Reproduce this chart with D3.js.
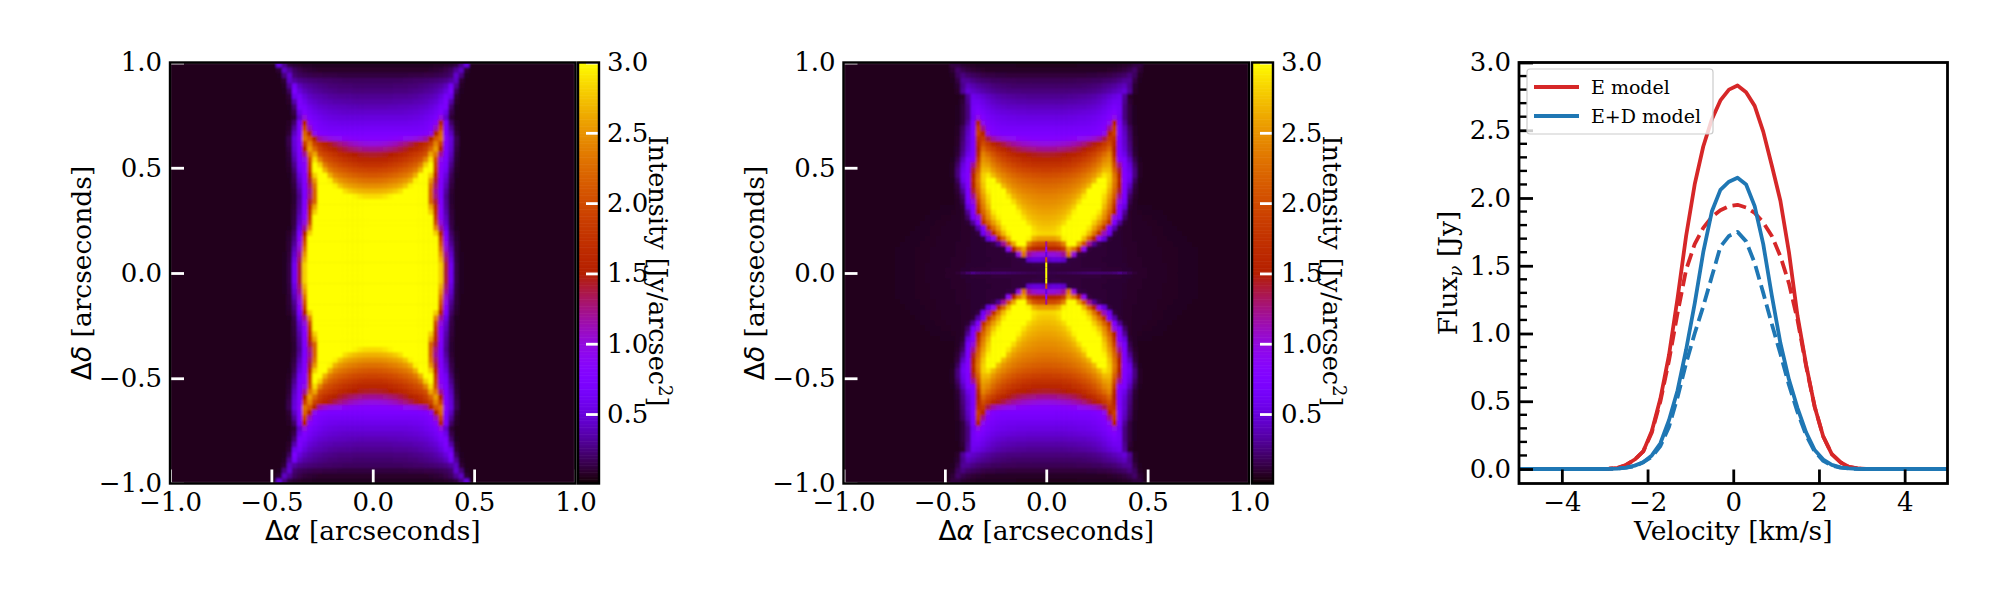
<!DOCTYPE html>
<html><head><meta charset="utf-8">
<script src="https://cdn.jsdelivr.net/npm/d3@7"></script>
<style>
html,body{margin:0;padding:0;background:#fff}
svg{display:block}
text{font-family:"DejaVu Serif",serif;fill:#000}
</style></head><body><svg id="c" width="2000" height="600"></svg>
<script>
// ---------- data ----------
const xTicks=[-1,-0.5,0,0.5,1], yTicks=[-1,-0.5,0,0.5,1];
const cbTicks=[0.5,1,1.5,2,2.5,3];
const vTicks=[-4,-2,0,2,4];
const fluxTicks=[0,0.5,1,1.5,2,2.5,3];
const fluxMinor=[0.1,0.2,0.3,0.4,0.6,0.7,0.8,0.9,1.1,1.2,1.3,1.4,1.6,1.7,1.8,1.9,2.1,2.2,2.3,2.4,2.6,2.7,2.8,2.9];
const background=0.05, cellStep=0.025;
// intensity in one quadrant: rows from |dec|=0.9875 down to 0.0125, columns from |ra|=0.0125 outward
const intensityE=[
[.06,.06,.06,.06,.06,.06,.06,.06,.06,.06,.06,.06,.07,.07,.08,.09,.12,.26,.50],
[.08,.08,.08,.08,.08,.08,.08,.08,.08,.08,.08,.09,.10,.11,.14,.18,.30,.42,.10],
[.12,.12,.12,.12,.12,.12,.12,.13,.13,.13,.14,.14,.15,.16,.18,.22,.45,.25,.06],
[.18,.18,.18,.18,.18,.18,.19,.19,.2,.2,.21,.22,.23,.25,.27,.33,.42,.10],
[.21,.21,.21,.21,.22,.22,.22,.23,.23,.25,.26,.28,.30,.33,.40,.62,.30,.07],
[.24,.24,.24,.24,.25,.25,.25,.26,.27,.28,.30,.32,.35,.40,.50,.70,.18,.06],
[.29,.29,.29,.29,.30,.30,.30,.31,.32,.34,.36,.38,.42,.50,.65,.55,.10],
[.33,.33,.33,.33,.34,.34,.35,.35,.37,.38,.40,.44,.48,.58,.72,.35,.08],
[.38,.38,.38,.39,.39,.40,.40,.41,.42,.44,.46,.50,.56,.68,.70,.22,.06],
[.44,.44,.44,.44,.44,.44,.45,.46,.47,.49,.52,.56,.62,.76,.55,.14],
[.50,.50,.50,.50,.50,.50,.50,.51,.52,.54,.58,.62,.70,1.0,.45,.10],
[.56,.56,.56,.56,.56,.56,.56,.57,.58,.60,.64,.70,.85,1.5,.70,.20,.07],
[.63,.63,.63,.63,.62,.62,.62,.62,.63,.65,.68,.76,1.1,1.9,.72,.30,.08],
[.70,.70,.70,.70,.70,.70,.70,.70,.71,.73,.77,.9,1.5,2.2,.74,.40,.10],
[.8,.8,.8,.82,.84,.87,.9,.93,.98,1.05,1.15,1.5,2.1,2.3,.85,.5,.15],
[.98,.99,1.02,1.06,1.11,1.18,1.25,1.34,1.45,1.56,1.7,1.9,2.4,1.9,.78,.48,.14],
[1.2,1.21,1.23,1.27,1.31,1.37,1.43,1.5,1.6,1.7,1.85,2.2,2.55,1.5,.75,.45,.12],
[1.42,1.43,1.45,1.49,1.53,1.59,1.65,1.73,1.82,1.92,2.05,2.6,2.3,1.2,.72,.4,.10],
[1.58,1.59,1.61,1.65,1.69,1.75,1.81,1.89,1.98,2.08,2.4,2.85,2.0,.95,.7,.34,.09],
[1.75,1.76,1.78,1.82,1.86,1.92,1.98,2.06,2.15,2.35,2.8,3,1.9,.85,.66,.28,.08],
[1.92,1.93,1.95,1.99,2.03,2.09,2.15,2.23,2.35,2.65,3,3,1.8,.82,.6,.22,.07],
[2.1,2.11,2.13,2.17,2.21,2.27,2.33,2.42,2.65,3,3,2.8,1.6,.8,.5,.17,.06],
[2.28,2.29,2.31,2.35,2.39,2.45,2.52,2.65,2.95,3,3,2.5,1.4,.78,.44,.14],
[2.46,2.47,2.49,2.53,2.57,2.63,2.75,2.95,3,3,3,2.3,1.3,.75,.38,.12],
[2.65,2.66,2.68,2.72,2.78,2.87,3,3,3,3,3,2.2,1.2,.72,.32,.10],
[2.85,2.86,2.9,2.96,3,3,3,3,3,3,3,2.2,1.25,.7,.28,.09],
[3,3,3,3,3,3,3,3,3,3,3,2.2,1.4,.75,.3,.09],
[3,3,3,3,3,3,3,3,3,3,3,2.6,1.6,.8,.32,.1],
[3,3,3,3,3,3,3,3,3,3,3,2.8,1.7,.8,.35,.11],
[3,3,3,3,3,3,3,3,3,3,3,3,1.8,.85,.4,.12],
[3,3,3,3,3,3,3,3,3,3,3,3,2.0,1.0,.45,.13],
[3,3,3,3,3,3,3,3,3,3,3,3,2.4,1.2,.55,.15,.06],
[3,3,3,3,3,3,3,3,3,3,3,3,2.8,1.5,.7,.2,.08],
[3,3,3,3,3,3,3,3,3,3,3,3,3,1.9,.85,.25,.09],
[3,3,3,3,3,3,3,3,3,3,3,3,3,2.1,.95,.3,.1],
[3,3,3,3,3,3,3,3,3,3,3,3,3,2.3,1.05,.38,.1],
[3,3,3,3,3,3,3,3,3,3,3,3,3,2.5,1.2,.45,.11,.06],
[3,3,3,3,3,3,3,3,3,3,3,3,3,2.65,1.3,.52,.12,.06],
[3,3,3,3,3,3,3,3,3,3,3,3,3,2.8,1.4,.6,.13,.06],
[3,3,3,3,3,3,3,3,3,3,3,3,3,2.8,1.4,.6,.13,.06]
];
const intensityED=[
[.05,.05,.05,.05,.05,.05,.06,.06,.06,.06,.06,.06,.06,.06,.07,.08,.09,.12,.12],
[.07,.07,.07,.07,.07,.07,.07,.07,.07,.07,.07,.07,.08,.09,.1,.12,.15,.2,.10],
[.11,.11,.11,.11,.11,.11,.11,.11,.12,.12,.13,.13,.14,.16,.18,.2,.25,.18,.07],
[.16,.16,.16,.16,.16,.16,.17,.17,.17,.18,.18,.2,.21,.23,.26,.3,.3,.13,.06],
[.20,.20,.20,.20,.20,.20,.20,.21,.22,.23,.24,.27,.29,.32,.36,.4,.28,.09],
[.24,.24,.24,.24,.24,.25,.25,.25,.26,.27,.29,.32,.35,.39,.43,.48,.3,.08],
[.29,.29,.29,.29,.30,.30,.31,.32,.33,.35,.38,.42,.47,.52,.56,.3,.08],
[.34,.34,.34,.34,.35,.35,.36,.37,.38,.40,.43,.48,.54,.6,.6,.28,.1],
[.40,.40,.40,.40,.41,.41,.42,.42,.44,.46,.49,.54,.6,.68,.62,.25,.12,.06],
[.46,.46,.46,.46,.47,.47,.48,.49,.50,.52,.55,.6,.67,.75,.62,.25,.12,.06],
[.52,.52,.52,.52,.53,.53,.54,.54,.56,.58,.61,.66,.76,.95,.6,.25,.12,.06],
[.58,.58,.58,.58,.58,.58,.59,.59,.60,.62,.66,.72,.9,1.5,.7,.3,.12,.06],
[.65,.65,.65,.65,.65,.65,.65,.65,.66,.68,.72,.82,1.2,1.8,.72,.38,.18,.07],
[.70,.70,.70,.70,.70,.70,.70,.70,.70,.73,.78,.92,1.55,1.9,.74,.42,.2,.07],
[.8,.8,.8,.82,.84,.87,.9,.93,.98,1.05,1.15,1.35,1.8,1.7,.72,.45,.22,.08],
[.98,.99,1.01,1.04,1.07,1.12,1.18,1.26,1.36,1.46,1.6,1.8,2.0,1.6,.72,.45,.24,.08],
[1.2,1.21,1.23,1.26,1.29,1.34,1.4,1.48,1.58,1.7,1.85,2.0,2.2,1.5,.72,.48,.26,.09],
[1.42,1.43,1.45,1.48,1.51,1.56,1.62,1.7,1.8,1.92,2.07,2.25,2.4,1.6,.75,.55,.3,.1],
[1.58,1.59,1.61,1.64,1.67,1.72,1.78,1.86,1.96,2.08,2.23,2.42,2.5,1.8,.85,.72,.4,.15,.06],
[1.73,1.74,1.76,1.79,1.82,1.87,1.93,2.01,2.11,2.23,2.38,2.55,2.6,2.0,1.2,.75,.5,.2,.07],
[1.87,1.88,1.9,1.93,1.96,2.01,2.07,2.15,2.25,2.37,2.52,2.7,2.7,2.15,1.4,.75,.55,.25,.07],
[2.02,2.03,2.05,2.08,2.11,2.16,2.22,2.3,2.4,2.52,2.7,2.9,2.8,2.3,1.5,.78,.6,.25,.07],
[2.14,2.15,2.17,2.2,2.23,2.28,2.34,2.42,2.52,2.7,3,3,2.8,2.35,1.6,.8,.55,.18,.06],
[2.24,2.25,2.27,2.3,2.33,2.38,2.44,2.54,2.7,3,3,3,2.75,2.3,1.5,.75,.42,.12],
[2.32,2.33,2.35,2.38,2.41,2.47,2.55,2.7,3,3,3,2.95,2.65,2.2,1.4,.72,.3,.1],
[2.4,2.41,2.43,2.46,2.5,2.57,2.68,2.9,3,3,3,2.85,2.55,2.1,1.2,.7,.2,.08],
[2.46,2.47,2.49,2.53,2.58,2.67,2.85,3,3,3,3,2.8,2.45,1.9,1.0,.65,.15,.07],
[2.52,2.53,2.56,2.6,2.67,2.8,3,3,3,3,3,2.7,2.35,1.7,.8,.5,.1,.07,.06,.06,.06],
[2.58,2.59,2.62,2.67,2.76,2.95,3,3,3,3,2.9,2.55,2.2,1.5,.75,.3,.08,.07,.065,.06,.06,.06,.06],
[2.64,2.65,2.69,2.75,2.88,3,3,3,3,2.95,2.75,2.45,2.0,1.0,.65,.2,.08,.07,.07,.065,.065,.06,.06,.06,.055,.055],
[2.7,2.72,2.76,2.86,3,3,3,3,3,2.8,2.55,2.2,1.7,.75,.3,.1,.08,.07,.07,.07,.065,.065,.06,.06,.06,.055,.055,.055],
[2.76,2.78,2.85,3,3,3,3,3,2.9,2.6,2.25,1.7,.75,.35,.1,.08,.08,.07,.07,.07,.07,.065,.065,.06,.06,.06,.055,.055,.055],
[2.82,2.84,2.9,3,3,3,3,2.95,2.7,2.3,1.7,1.1,.6,.12,.09,.08,.08,.075,.07,.07,.07,.065,.065,.06,.06,.06,.06,.055,.055,.055],
[2.55,2.55,2.65,2.95,3,3,3,2.7,2.2,1.5,.9,.5,.12,.09,.09,.08,.08,.075,.07,.07,.07,.07,.065,.065,.06,.06,.06,.06,.055,.055,.055],
[2.0,2.0,2.1,2.4,3,3,2.6,2.0,1.2,.3,.14,.1,.09,.09,.09,.08,.08,.08,.075,.07,.07,.07,.065,.065,.065,.06,.06,.06,.06,.055,.055,.055],
[1.55,1.55,1.6,1.8,2.6,2.3,1.5,.9,.12,.1,.1,.1,.09,.09,.09,.085,.08,.08,.075,.07,.07,.07,.07,.065,.065,.065,.06,.06,.06,.06,.055,.055,.055],
[1.0,1.0,1.05,1.2,2.3,1.0,.13,.12,.1,.1,.1,.1,.09,.09,.09,.085,.08,.08,.075,.07,.07,.07,.07,.065,.065,.065,.06,.06,.06,.06,.055,.055,.055,.055],
[.45,.5,.5,.45,.12,.12,.11,.1,.1,.1,.1,.09,.09,.09,.09,.085,.08,.08,.08,.075,.07,.07,.07,.065,.065,.065,.06,.06,.06,.06,.055,.055,.055,.055],
[.12,.13,.13,.12,.12,.11,.11,.1,.1,.1,.1,.1,.09,.09,.09,.09,.08,.08,.08,.075,.07,.07,.07,.07,.065,.065,.06,.06,.06,.06,.055,.055,.055,.055],
[.12,.12,.11,.11,.11,.11,.11,.11,.11,.11,.11,.1,.1,.1,.1,.09,.09,.08,.08,.08,.07,.07,.07,.07,.065,.065,.06,.06,.06,.06,.055,.055,.055,.055]
];
// thin bright filament on the axis of the second map: rows from |dec|=0.1375 down to 0.0125
const filamentRows=[1.2,0.8,0.5,2.0,3,3];
// thin equatorial streak of the second map: columns from |ra|=0.0125 outward
const streakCols=[.14,.14,.15,.15,.16,.17,.18,.19,.2,.2,.2,.2,.2,.22,.26,.2,.14,.1,.08];
// spectra
const velocity=[-5,-3.1,-2.9,-2.7,-2.5,-2.3,-2.1,-1.9,-1.7,-1.5,-1.3,-1.1,-.9,-.7,-.5,-.3,-.1,.1,.3,.5,.7,.9,1.1,1.3,1.5,1.7,1.9,2.1,2.3,2.5,2.7,2.9,3.1,3.3,5];
const fluxE=[0,0,.002,.008,.03,.07,.13,.28,.52,.84,1.26,1.72,2.1,2.38,2.58,2.72,2.8,2.83,2.78,2.68,2.49,2.24,1.98,1.6,1.13,.77,.46,.24,.11,.05,.015,.005,0,0,0];
const fluxEdash=[0,0,.002,.008,.03,.07,.13,.27,.5,.8,1.15,1.47,1.66,1.78,1.86,1.91,1.94,1.95,1.93,1.89,1.82,1.72,1.57,1.37,1.1,.76,.46,.24,.11,.05,.015,.005,0,0,0];
const fluxED=[0,0,.001,.003,.01,.025,.05,.1,.19,.36,.58,.88,1.22,1.6,1.9,2.06,2.12,2.15,2.1,1.94,1.66,1.28,.93,.66,.45,.27,.14,.07,.03,.012,.004,.001,0,0,0];
const fluxEDdash=[0,0,.001,.003,.01,.02,.05,.09,.17,.31,.53,.78,1.0,1.2,1.42,1.64,1.72,1.75,1.68,1.52,1.3,1.07,.85,.62,.42,.25,.13,.06,.025,.01,.003,.001,0,0,0];
const legendLabels=["E model","E+D model"];
const RED="#d62728", BLUE="#1f77b4";

// ---------- helpers ----------
const svg=d3.select("#c");
const FS=26, LS=26.5, axTop=62.5, axBot=483.5;
// gnuplot colormap
function cmap(v){const t=Math.max(0,Math.min(1,v/3));
  const r=Math.sqrt(t),g=t*t*t,b=Math.max(0,Math.sin(2*Math.PI*t));
  return d3.rgb(r*255,g*255,b*255).formatHex();}
const defs=svg.append("defs");
defs.append("filter").attr("id","soft").attr("x",0).attr("y",0).attr("width",1).attr("height",1)
  .append("feGaussianBlur").attr("stdDeviation",1.0);

function styleAxis(g,color,w){g.select(".domain").remove();
  g.selectAll(".tick line").attr("stroke",color).attr("stroke-width",w);
  g.selectAll(".tick text").attr("fill","#000").style("font-size",FS+"px");}

function mapPanel(idx,x0,x1,rows,cbx0,cbx1,yLabelX){
  const x=d3.scaleLinear().domain([-1,1]).range([x0,x1]);
  const y=d3.scaleLinear().domain([-1,1]).range([axBot,axTop]);
  const id="clip"+idx;
  defs.append("clipPath").attr("id",id).append("rect").attr("x",x0).attr("y",axTop).attr("width",x1-x0).attr("height",axBot-axTop);
  const outer=svg.append("g").attr("clip-path",`url(#${id})`);
  const g=outer.append("g").attr("filter","url(#soft)");
  g.append("rect").attr("x",x0).attr("y",axTop).attr("width",x1-x0).attr("height",axBot-axTop).attr("fill",cmap(background));
  rows.forEach((row,j)=>{
    const hi=1-j*cellStep, lo=hi-cellStep;
    row.forEach((v,i)=>{
      const a=i*cellStep,b=a+cellStep;
      [[1,1],[-1,1],[1,-1],[-1,-1]].forEach(([sx,sy])=>{
        const xa=x(sx*a),xb=x(sx*b),ya=y(sy*lo),yb=y(sy*hi);
        g.append("rect").attr("x",Math.min(xa,xb)-.3).attr("y",Math.min(ya,yb)-.3)
         .attr("width",Math.abs(xb-xa)+.6).attr("height",Math.abs(yb-ya)+.6).attr("fill",cmap(v));
      });
    });
  });
  if(idx===2){
    streakCols.forEach((v,i)=>{
      const a=i*cellStep,b=a+cellStep;
      [1,-1].forEach(s=>{
        const xa=x(s*a),xb=x(s*b);
        outer.append("rect").attr("x",Math.min(xa,xb)).attr("width",Math.abs(xb-xa)+.3)
         .attr("y",y(0.007)).attr("height",y(-0.007)-y(0.007)).attr("fill",cmap(v));
      });
    });
    filamentRows.forEach((v,k)=>{
      const hi=0.15-k*cellStep, lo=hi-cellStep;
      [1,-1].forEach(s=>{
        const ya=y(s*lo),yb=y(s*hi);
        outer.append("rect").attr("x",x(-0.005)).attr("width",x(0.005)-x(-0.005))
         .attr("y",Math.min(ya,yb)).attr("height",Math.abs(yb-ya)).attr("fill",cmap(v));
      });
    });
  }
  const ax=svg.append("g").attr("transform",`translate(0,${axBot})`)
    .call(d3.axisBottom(x).tickValues(xTicks).tickFormat(d3.format(".1f")).tickSizeInner(-14).tickSizeOuter(0).tickPadding(5));
  styleAxis(ax,"#fff",2.8);
  ax.selectAll(".tick text").attr("dy","0.85em");
  const ay=svg.append("g").attr("transform",`translate(${x0},0)`)
    .call(d3.axisLeft(y).tickValues(yTicks).tickFormat(d3.format(".1f")).tickSizeInner(-14).tickSizeOuter(0).tickPadding(8));
  styleAxis(ay,"#fff",2.8);
  svg.append("rect").attr("x",x0).attr("y",axTop).attr("width",x1-x0).attr("height",axBot-axTop).attr("fill","none").attr("stroke","#000").attr("stroke-width",2.4);
  const xl=svg.append("text").attr("x",(x0+x1)/2).attr("y",540).attr("text-anchor","middle").style("font-size",LS+"px");
  xl.append("tspan").style("font-family","'DejaVu Sans'").text("Δ");
  xl.append("tspan").style("font-family","'DejaVu Sans'").style("font-style","italic").text("α");
  xl.append("tspan").text(" [arcseconds]");
  const yl=svg.append("text").attr("transform",`translate(${yLabelX},${(axTop+axBot)/2}) rotate(-90)`).attr("text-anchor","middle").style("font-size",LS+"px");
  yl.append("tspan").style("font-family","'DejaVu Sans'").text("Δ");
  yl.append("tspan").style("font-family","'DejaVu Sans'").style("font-style","italic").text("δ");
  yl.append("tspan").text(" [arcseconds]");
  // colorbar
  const c=d3.scaleLinear().domain([0.006,3]).range([axBot,axTop]);
  const steps=d3.range(0.006,3,0.01);
  svg.append("g").selectAll("rect").data(steps).join("rect")
    .attr("x",cbx0).attr("width",cbx1-cbx0).attr("y",d=>c(d+0.0105)).attr("height",d=>c(d)-c(d+0.0105)+.5).attr("fill",d=>cmap(d));
  const ac=svg.append("g").attr("transform",`translate(${cbx1},0)`)
    .call(d3.axisRight(c).tickValues(cbTicks).tickFormat(d3.format(".1f")).tickSizeInner(-13).tickSizeOuter(0).tickPadding(8));
  styleAxis(ac,"#fff",2.8);
  svg.append("rect").attr("x",cbx0).attr("y",axTop).attr("width",cbx1-cbx0).attr("height",axBot-axTop).attr("fill","none").attr("stroke","#000").attr("stroke-width",2.4);
  const cl=svg.append("text").attr("transform",`translate(${cbx1+50},${(axTop+axBot)/2-2}) rotate(90)`).attr("text-anchor","middle").style("font-size","25.5px");
  cl.append("tspan").text("Intensity [Jy/arcsec");
  cl.append("tspan").attr("dy",-10).style("font-size","18px").text("2");
  cl.append("tspan").attr("dy",10).text("]");
}
mapPanel(1,170,575.5,intensityE,578,599,91);
mapPanel(2,843.5,1249,intensityED,1252,1273,764);

// ---------- spectra panel ----------
const px0=1519,px1=1947.5;
const vx=d3.scaleLinear().domain([-5,5]).range([px0,px1]);
const fy=d3.scaleLinear().domain([-0.107,3]).range([axBot,axTop]);
const line=d3.line().x((d,i)=>vx(velocity[i])).y(d=>fy(d));
defs.append("clipPath").attr("id","clip3").append("rect").attr("x",px0).attr("y",axTop).attr("width",px1-px0).attr("height",axBot-axTop);
const lg=svg.append("g").attr("clip-path","url(#clip3)");
[[fluxE,RED,null],[fluxEdash,RED,"14 6"],[fluxEDdash,BLUE,"14 6"],[fluxED,BLUE,null]].forEach(([s,col,dash])=>{
  lg.append("path").attr("d",line(s)).attr("fill","none").attr("stroke",col).attr("stroke-width",3.8)
    .attr("stroke-dasharray",dash).attr("stroke-linejoin","round");
});
const a3x=svg.append("g").attr("transform",`translate(0,${axBot})`)
  .call(d3.axisBottom(vx).tickValues(vTicks).tickFormat(d3.format("d")).tickSizeInner(-14).tickSizeOuter(0).tickPadding(5));
styleAxis(a3x,"#000",2.8); a3x.selectAll(".tick text").attr("dy","0.85em");
const a3y=svg.append("g").attr("transform",`translate(${px0},0)`)
  .call(d3.axisLeft(fy).tickValues(fluxTicks).tickFormat(d3.format(".1f")).tickSizeInner(-14).tickSizeOuter(0).tickPadding(8));
styleAxis(a3y,"#000",2.8);
svg.append("g").selectAll("line").data(fluxMinor).join("line")
  .attr("x1",px0).attr("x2",px0+8).attr("y1",d=>fy(d)).attr("y2",d=>fy(d)).attr("stroke","#000").attr("stroke-width",2.4);
svg.append("rect").attr("x",px0).attr("y",axTop).attr("width",px1-px0).attr("height",axBot-axTop).attr("fill","none").attr("stroke","#000").attr("stroke-width",2.8);
// legend
svg.append("rect").attr("x",1527).attr("y",69).attr("width",186).attr("height",65).attr("rx",3)
  .attr("fill","#fff").attr("fill-opacity",.8).attr("stroke","#ccc").attr("stroke-width",1.2);
[[RED,0],[BLUE,1]].forEach(([col,i])=>{
  const yy=87+i*29;
  svg.append("line").attr("x1",1534).attr("x2",1579).attr("y1",yy).attr("y2",yy).attr("stroke",col).attr("stroke-width",3.8);
  svg.append("text").attr("x",1591).attr("y",yy+6.5).style("font-size","19px").text(legendLabels[i]);
});
svg.append("text").attr("x",(px0+px1)/2).attr("y",540).attr("text-anchor","middle").style("font-size",LS+"px").text("Velocity [km/s]");
const fl=svg.append("text").attr("transform",`translate(1457,${(axTop+axBot)/2}) rotate(-90)`).attr("text-anchor","middle").style("font-size",LS+"px");
fl.append("tspan").text("Flux");
fl.append("tspan").attr("dy",5).style("font-size","18px").style("font-style","italic").text("ν");
fl.append("tspan").attr("dy",-5).text(" [Jy]");
</script></body></html>
